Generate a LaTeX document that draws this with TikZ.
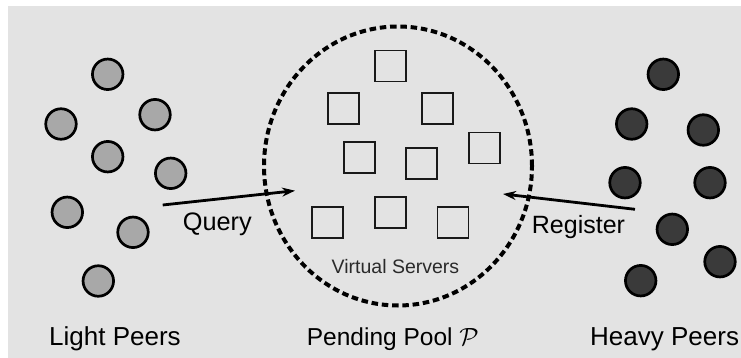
\documentclass[tikz,border=0pt]{standalone}
\usepackage{fontspec}
\setmainfont{Liberation Sans}
\usetikzlibrary{arrows.meta,shapes.geometric}
\definecolor{bg}{HTML}{E3E3E3}
\definecolor{lightfill}{HTML}{A8A8A8}
\definecolor{heavyfill}{HTML}{3A3A3A}
\definecolor{servertext}{HTML}{2A2A2A}
\begin{document}
\begin{tikzpicture}[x=1pt,y=-1pt,
  peer/.style={circle, draw=black, line width=2.7pt, minimum size=30.5pt, inner sep=0pt},
  light/.style={peer, fill=lightfill},
  heavy/.style={peer, fill=heavyfill},
  vserver/.style={rectangle, draw=black!90, line width=1.9pt, minimum size=31pt, inner sep=0pt},
  caption/.style={inner sep=0pt, anchor=base west, font=\fontsize{26}{30}\selectfont},
  flow/.style={line width=2.8pt, -{Stealth[length=13pt,width=9pt]}},
  poolring/.style={ellipse, draw=black, line width=4pt, dash pattern=on 6.5pt off 3.8pt,
    minimum width=268pt, minimum height=279pt, inner sep=0pt}]
\useasboundingbox (0,0) rectangle (741,358);
\fill[bg] (8,6) rectangle (741,358);

% pending pool
\node[poolring] (pool) at (398,166) {};

% light peers
\node[light] (lp1) at (107.7,74.3) {};
\node[light] (lp2) at (61,124) {};
\node[light] (lp3) at (155,114.7) {};
\node[light] (lp4) at (107.7,156.7) {};
\node[light] (lp5) at (170.7,173.3) {};
\node[light] (lp6) at (67.3,212.3) {};
\node[light] (lp7) at (133,232.3) {};
\node[light] (lp8) at (98.3,281) {};

% heavy peers
\node[heavy] (hp1) at (663.3,74.3) {};
\node[heavy] (hp2) at (631.7,124) {};
\node[heavy] (hp3) at (703.3,130) {};
\node[heavy] (hp4) at (625,182.7) {};
\node[heavy] (hp5) at (710,182.7) {};
\node[heavy] (hp6) at (672.3,229.3) {};
\node[heavy] (hp7) at (720,261.7) {};
\node[heavy] (hp8) at (640.7,280.7) {};

% virtual servers
\node[vserver] (vs1) at (390.3,66) {};
\node[vserver] (vs2) at (343.3,108.3) {};
\node[vserver] (vs3) at (437.8,108.3) {};
\node[vserver] (vs4) at (359.3,157.3) {};
\node[vserver] (vs5) at (421.5,163.5) {};
\node[vserver] (vs6) at (484.5,148) {};
\node[vserver] (vs7) at (327.5,222.5) {};
\node[vserver] (vs8) at (390.3,212.7) {};
\node[vserver] (vs9) at (453,222.5) {};
\node[inner sep=0pt, text=servertext, font=\fontsize{19.5}{22}\selectfont] (vslabel) at (395.5,266.3) {Virtual Servers};

% query and register flows
\coordinate (qstart) at (162.7,205);
\coordinate (qend) at (295,190.7);
\coordinate (rstart) at (635,209.3);
\coordinate (rend) at (503,194);
\draw[flow] (qstart) -- (qend);
\draw[flow] (rstart) -- (rend);
\node[caption, font=\fontsize{25.3}{29}\selectfont] (query) at (182.7,230) {Query};
\node[caption, font=\fontsize{25}{29}\selectfont] (register) at (531.7,233.3) {Register};

% group captions
\node[caption] (lightcap) at (49,345) {Light Peers};
\node[caption, font=\fontsize{24.5}{28}\selectfont] (poolcap) at (306.7,345) {Pending Pool {\fontsize{28}{30}\selectfont$\mathcal{P}$}};
\node[caption] (heavycap) at (590,345) {Heavy Peers};
\end{tikzpicture}
\end{document}
